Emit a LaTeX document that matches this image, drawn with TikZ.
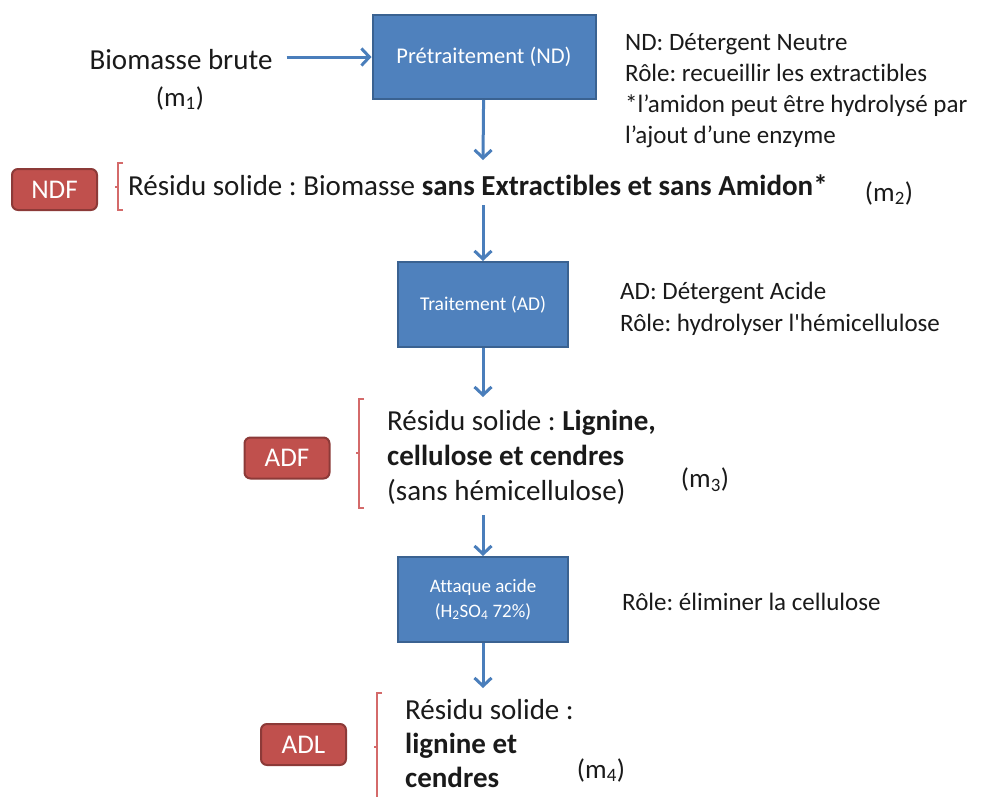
\documentclass[tikz,border=0pt]{standalone}
\usepackage{fontspec}
\setmainfont{Carlito}[Ligatures={NoCommon,TeXOff}]
\usetikzlibrary{arrows.meta}
\definecolor{boxblue}{HTML}{4F81BD}
\definecolor{boxedge}{HTML}{3A6291}
\definecolor{flowblue}{HTML}{4A7EBB}
\definecolor{badgered}{HTML}{C0504D}
\definecolor{badgeedge}{HTML}{8C3A38}
\definecolor{bracered}{HTML}{D46A6A}
\definecolor{txt}{HTML}{1A1A1A}
\frenchspacing
\begin{document}
\begin{tikzpicture}[x=1pt, y=-1pt, >={Straight Barb[length=8pt,width=17pt]},
    etape/.style={draw=boxedge, line width=2pt, fill=boxblue, text=white, align=center},
    badge/.style={draw=badgeedge, line width=2pt, fill=badgered, text=white,
      rounded corners=6pt, minimum width=85pt, minimum height=41pt, font=\fontsize{27}{30}\selectfont},
    flow/.style={->, draw=flowblue, line width=3pt},
    brace/.style={draw=bracered, line width=1.3pt},
    big/.style={text=txt, inner sep=0pt, font=\fontsize{29}{35}\selectfont},
    note/.style={text=txt, inner sep=0pt, align=left, anchor=west, font=\fontsize{25}{31}\selectfont},
    masse/.style={text=txt, inner sep=0pt, font=\fontsize{27}{30}\selectfont}]
  \useasboundingbox (0,0) rectangle (983,796);

  \node[etape, minimum width=223pt, minimum height=84pt, font=\fontsize{22.5}{26}\selectfont] (pre) at (484,57) {Prétraitement (ND)};
  \node[etape, minimum width=170pt, minimum height=85pt, font=\fontsize{19.5}{24}\selectfont] (trait) at (483,304.5) {Traitement (AD)};
  \node[etape, minimum width=170pt, minimum height=85pt, font=\fontsize{19}{25}\selectfont] (attaque) at (483,599.5) {Attaque acide\\(H\textsubscript{2}SO\textsubscript{4} 72\%)};

  \node[big] (bio) at (181,60) {Biomasse brute};
  \node[masse] (m1) at (180,98) {(m\textsubscript{1})};

  \node[note] (nd) at (625,91) {ND: Détergent Neutre\\Rôle: recueillir les extractibles\\*l’amidon peut être hydrolysé par\\l’ajout d’une enzyme};
  \node[note, font=\fontsize{25}{32}\selectfont] (ad) at (620,309) {AD: Détergent Acide\\Rôle: hydrolyser l'hémicellulose};
  \node[note] (acide) at (622,602) {Rôle: éliminer la cellulose};

  \node[badge] (ndf) at (54.5,189.5) {NDF};
  \node[badge] (adf) at (287,458) {ADF};
  \node[badge] (adl) at (303.5,744.5) {ADL};

  \node[big, anchor=west] (res1) at (128,185) {Résidu solide : Biomasse \textbf{sans Extractibles et sans Amidon*}};
  \node[big, anchor=west, align=left] (res2) at (387,457) {Résidu solide : \textbf{Lignine,}\\\textbf{cellulose et cendres}\\(sans hémicellulose)};
  \node[big, anchor=west, align=left, font=\fontsize{29}{34}\selectfont] (res3) at (405,744) {Résidu solide :\\\textbf{lignine et}\\\textbf{cendres}};

  \node[masse] (m2) at (889,193) {(m\textsubscript{2})};
  \node[masse] (m3) at (705,480) {(m\textsubscript{3})};
  \node[masse] (m4) at (601,770) {(m\textsubscript{4})};

  \draw[brace] (123,163) -- (118,163) -- (118,210) -- (123,210) (118,187) -- (115,187);
  \draw[brace] (364,399) -- (359,399) -- (359,508) -- (364,508) (359,453) -- (356,453);
  \draw[brace] (382,693) -- (377,693) -- (377,800) (377,747) -- (374,747);

  \coordinate (r1top) at (483,160);
  \coordinate (r1bot) at (483,205);
  \coordinate (r2top) at (483,397);
  \coordinate (r2bot) at (483,515);
  \coordinate (r3top) at (483,688);

  \draw[flow] ([xshift=14pt]bio.east |- pre) -- (pre);
  \draw[flow] (pre) -- (r1top);
  \draw[flow] (r1bot) -- (trait);
  \draw[flow] (trait) -- (r2top);
  \draw[flow] (r2bot) -- (attaque);
  \draw[flow] (attaque) -- (r3top);
\end{tikzpicture}
\end{document}
